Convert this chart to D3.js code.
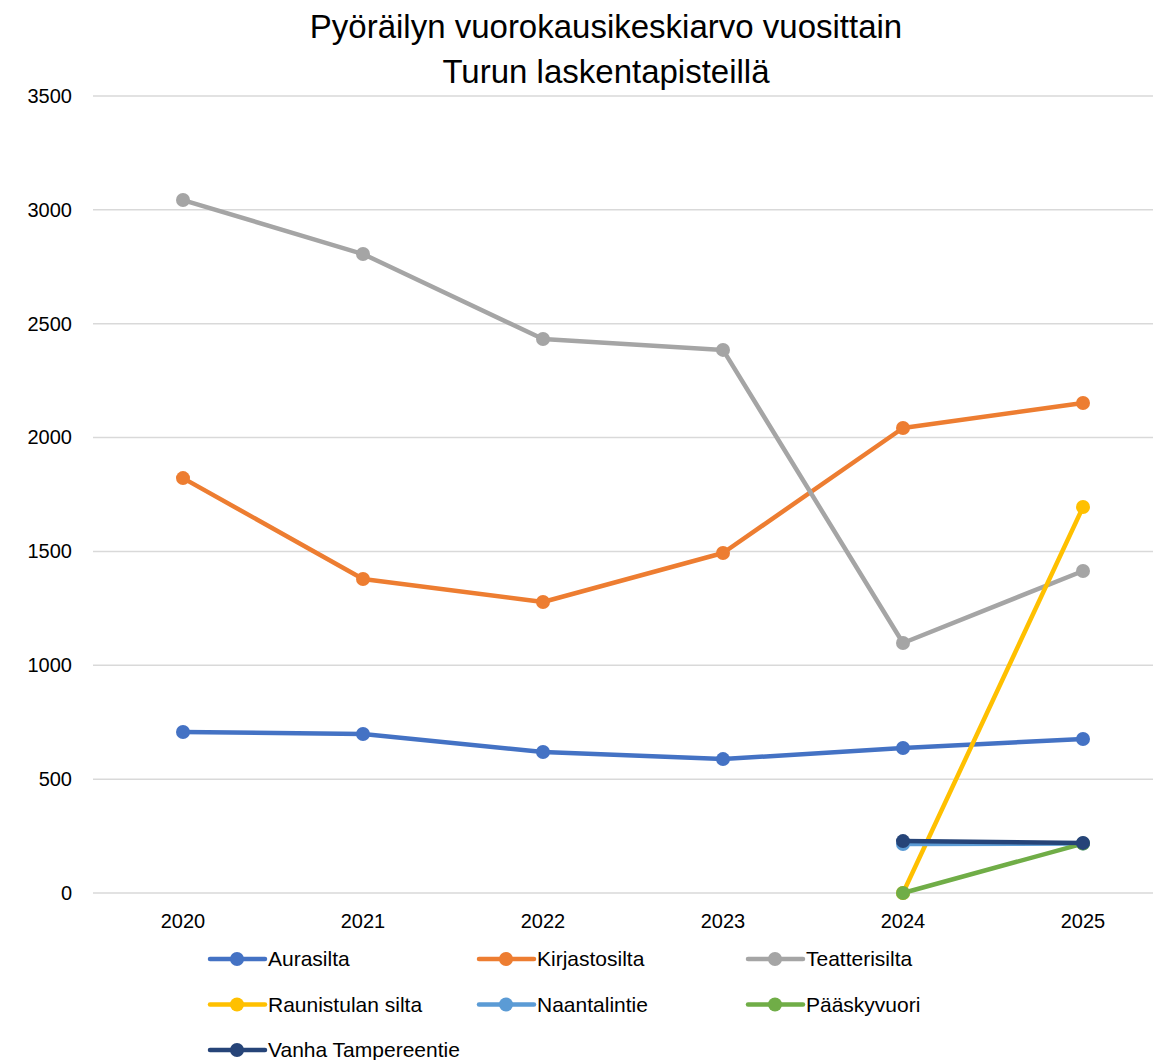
<!DOCTYPE html>
<html>
<head>
<meta charset="utf-8">
<script src="https://cdn.jsdelivr.net/npm/d3@7"></script>
<style>
  body { margin: 0; background: #fff; }
  text { font-family: "Liberation Sans", Arial, sans-serif; fill: #000; }
</style>
</head>
<body>
<div id="container"></div>
<script>
var years = ['2020', '2021', '2022', '2023', '2024', '2025'];
var yTicks = [0, 500, 1000, 1500, 2000, 2500, 3000, 3500];

var aurasilta = [707, 698, 619, 588, 637, 676];
var kirjastosilta = [1822, 1379, 1278, 1493, 2042, 2152];
var teatterisilta = [3043, 2806, 2433, 2385, 1098, 1414];
var raunistulanSilta = [null, null, null, null, 0, 1695];
var naantalintie = [null, null, null, null, 215, 217];
var paaskyvuori = [null, null, null, null, 0, 217];
var vanhaTampereentie = [null, null, null, null, 228, 220];

var series = [
    { name: 'Aurasilta', values: aurasilta, color: '#4472C4' },
    { name: 'Kirjastosilta', values: kirjastosilta, color: '#ED7D31' },
    { name: 'Teatterisilta', values: teatterisilta, color: '#A5A5A5' },
    { name: 'Raunistulan silta', values: raunistulanSilta, color: '#FFC000' },
    { name: 'Naantalintie', values: naantalintie, color: '#5B9BD5' },
    { name: 'Pääskyvuori', values: paaskyvuori, color: '#70AD47' },
    { name: 'Vanha Tampereentie', values: vanhaTampereentie, color: '#264478' }
];

var width = 1153, height = 1060;

var svg = d3.select('#container')
    .append('svg')
    .attr('width', width)
    .attr('height', height);

var x = d3.scaleBand()
    .domain(years)
    .range([93, 1173]);

var y = d3.scaleLinear()
    .domain([0, 3500])
    .range([893, 96]);

// title
svg.append('text')
    .attr('x', 606).attr('y', 38)
    .attr('text-anchor', 'middle')
    .style('font-size', '33px')
    .text('Pyöräilyn vuorokausikeskiarvo vuosittain');
svg.append('text')
    .attr('x', 606).attr('y', 83)
    .attr('text-anchor', 'middle')
    .style('font-size', '33px')
    .text('Turun laskentapisteillä');

// gridlines
svg.append('g').selectAll('line')
    .data(yTicks)
    .enter().append('line')
    .attr('x1', 93).attr('x2', 1173)
    .attr('y1', function(d) { return y(d); })
    .attr('y2', function(d) { return y(d); })
    .style('stroke', '#d9d9d9')
    .style('stroke-width', 1.5);

// y axis labels
var yAxis = d3.axisLeft(y).tickValues(yTicks).tickFormat(d3.format('d')).tickSize(0).tickPadding(0);
var gy = svg.append('g')
    .attr('transform', 'translate(72,0)')
    .call(yAxis);
gy.select('.domain').remove();
gy.selectAll('text')
    .style('font-size', '20px')
    .style('font-family', '"Liberation Sans", Arial, sans-serif')
    .style('fill', '#000');

// x axis labels
var xAxis = d3.axisBottom(x).tickSize(0).tickPadding(0);
var gx = svg.append('g')
    .attr('transform', 'translate(0,914)')
    .call(xAxis);
gx.select('.domain').remove();
gx.selectAll('text')
    .style('font-size', '20px')
    .style('font-family', '"Liberation Sans", Arial, sans-serif')
    .style('fill', '#000');

var cx = function(i) { return x(years[i]) + x.bandwidth() / 2; };

var line = d3.line()
    .defined(function(d) { return d != null; })
    .x(function(d, i) { return cx(i); })
    .y(function(d) { return y(d); });

series.forEach(function(s) {
    var g = svg.append('g');
    g.append('path')
        .datum(s.values)
        .attr('d', line)
        .style('fill', 'none')
        .style('stroke', s.color)
        .style('stroke-width', 4.5)
        .style('stroke-linejoin', 'round')
        .style('stroke-linecap', 'round');
    g.selectAll('circle')
        .data(s.values.map(function(v, i) { return { v: v, i: i }; })
            .filter(function(d) { return d.v != null; }))
        .enter().append('circle')
        .attr('cx', function(d) { return cx(d.i); })
        .attr('cy', function(d) { return y(d.v); })
        .attr('r', 7)
        .style('fill', s.color);
});

// legend
var legend = svg.append('g').selectAll('g')
    .data(series)
    .enter().append('g')
    .attr('transform', function(d, i) {
        return 'translate(' + (210 + (i % 3) * 269) + ',' + (959 + Math.floor(i / 3) * 45.5) + ')';
    });
legend.append('line')
    .attr('x1', 0).attr('x2', 55)
    .attr('y1', 0).attr('y2', 0)
    .style('stroke', function(d) { return d.color; })
    .style('stroke-width', 4.5)
    .style('stroke-linecap', 'round');
legend.append('circle')
    .attr('cx', 27).attr('cy', 0).attr('r', 7)
    .style('fill', function(d) { return d.color; });
legend.append('text')
    .attr('x', 58).attr('y', 0)
    .attr('dy', '0.35em')
    .style('font-size', '21px')
    .text(function(d) { return d.name; });
</script>
</body>
</html>
